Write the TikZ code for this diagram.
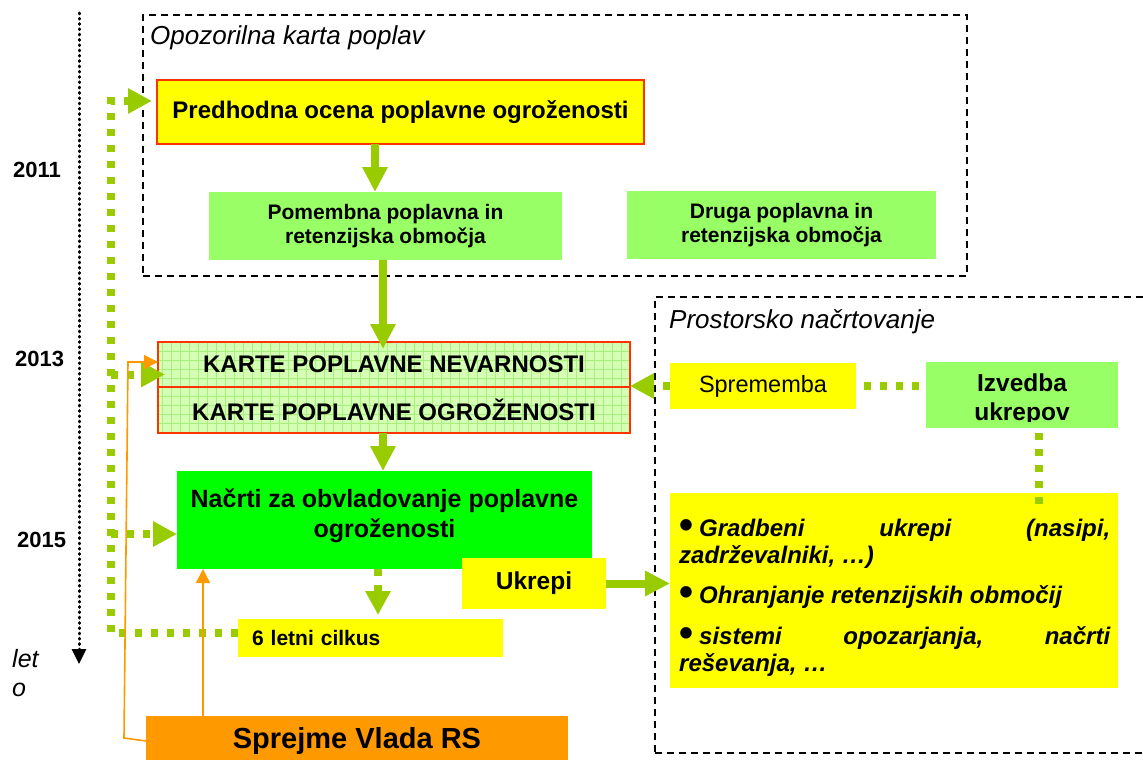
\documentclass[tikz,border=0pt]{standalone}
\usepackage{fontspec}
\setmainfont{Liberation Sans}
\usetikzlibrary{arrows.meta,backgrounds,calc}
\definecolor{agreen}{HTML}{99CC00}
\definecolor{lgreen}{HTML}{99FF66}
\definecolor{bgreen}{HTML}{00FF00}
\definecolor{ayellow}{HTML}{FFFF00}
\definecolor{ared}{HTML}{FF3300}
\definecolor{aorange}{HTML}{FF9900}
\definecolor{gridfill}{HTML}{D5FFB5}
\definecolor{gridline}{HTML}{A8F07C}
\newcommand{\myfs}[2]{\fontsize{#1}{#2}\selectfont}
\newcommand{\bigbul}{\raisebox{-2pt}{\upshape\myfs{40}{40}•}\hspace{6pt}}
\begin{document}
\begin{tikzpicture}[x=1pt,y=-1pt,
  box/.style={inner sep=0pt, outer sep=0pt, anchor=north west, align=center},
  zone/.style={draw=black, line width=1.3pt, dash pattern=on 7pt off 5pt, inner sep=0pt, outer sep=0pt, anchor=north west},
  year/.style={anchor=base west, inner sep=0pt, font=\bfseries\myfs{22}{26}},
  garrow/.style={draw=agreen, line width=8pt, -{Triangle[length=25pt,width=24pt]}},
  gdots/.style={draw=agreen, line width=8pt, dash pattern=on 7pt off 9pt},
  gdarrow/.style={gdots, -{Triangle[length=24pt,width=24pt]}},
  oarrow/.style={draw=aorange, line width=1.6pt, -{Triangle[length=14pt,width=14pt]}},
  timeline/.style={draw=black, line width=3pt, dash pattern=on 0.8pt off 4.5pt, line cap=round, -{Triangle[length=15pt,width=14pt]}}
]
\useasboundingbox (0,0) rectangle (1143,760);
\clip (0,0) rectangle (1143,760);

% time axis
\coordinate (tl1) at (79,13);
\coordinate (tl2) at (79,664);
\draw[timeline] (tl1) -- (tl2);
\node[year] (y2011) at (13,177) {2011};
\node[year] (y2013) at (15,366) {2013};
\node[year] (y2015) at (17,547) {2015};
\node[anchor=north west, inner sep=0pt, align=left, font=\itshape\myfs{25}{29}] (leto) at (12,649) {let\\o};

% dashed zones
\node[zone, minimum width=824pt, minimum height=261pt] (zone1) at (143,15) {};
\node[zone, minimum width=520pt, minimum height=456pt] (zone2) at (655,297) {};
\node[anchor=base west, inner sep=0pt, font=\itshape\myfs{26}{30}] (lab1) at (150,45) {Opozorilna karta poplav};
\node[anchor=base west, inner sep=0pt, font=\itshape\myfs{26}{30}] (lab2) at (669,328) {Prostorsko načrtovanje};

% boxes
\node[box, fill=ayellow, draw=ared, line width=2.5pt, minimum width=487pt, minimum height=64pt, font=\bfseries\myfs{24}{28}] (pred) at (157,80) {Predhodna ocena poplavne ogroženosti};
\node[box, fill=lgreen, minimum width=353pt, minimum height=68pt, font=\bfseries\myfs{21}{24}] (pom) at (209,192) {Pomembna poplavna in\\retenzijska območja};
\node[box, fill=lgreen, minimum width=309pt, minimum height=68pt, font=\bfseries\myfs{21}{24}] (druga) at (627,191) {Druga poplavna in\\retenzijska območja};

\node[box, draw=ared, line width=2.5pt, minimum width=472pt, minimum height=45pt, font=\bfseries\myfs{24}{28}] (karte1) at (158,342) {KARTE POPLAVNE NEVARNOSTI};
\node[box, draw=ared, line width=2.5pt, minimum width=472pt, minimum height=46pt, font=\bfseries\myfs{24}{28}] (karte2) at (158,387) {KARTE POPLAVNE OGROŽENOSTI};
\begin{scope}[on background layer]
  \fill[gridfill] (karte1.north west) rectangle (karte2.south east);
  \clip (karte1.north west) rectangle (karte2.south east);
  \draw[gridline, line width=0.6pt, step=9pt] (karte1.north west) grid (karte2.south east);
\end{scope}

\node[box, fill=bgreen, minimum width=415pt, minimum height=98pt] (nacrti) at (177,471) {};
\node[inner sep=0pt, align=center, font=\bfseries\myfs{25}{30}] (nacritT) at ([yshift=4pt]nacrti.center) {Načrti za obvladovanje poplavne\\ogroženosti};
\node[box, fill=ayellow, minimum width=144pt, minimum height=51pt, font=\bfseries\myfs{24.5}{28}] (ukrepi) at (462,558) {Ukrepi};
\node[box, fill=ayellow, inner xsep=14pt, text width=237pt, align=left, minimum height=38pt, font=\bfseries\myfs{21}{24}] (cikl) at (238,619) {6 letni cilkus};
\node[box, fill=aorange, minimum width=422pt, minimum height=50pt, font=\bfseries\myfs{29}{33}] (vlada) at (146,716) {Sprejme Vlada RS};

\node[box, fill=ayellow, minimum width=186pt, minimum height=46pt, font=\myfs{23.5}{28}] (spr) at (670,363) {Sprememba};
\node[box, fill=lgreen, minimum width=192pt, minimum height=66pt] (izv) at (926,362) {};
\begin{scope}
  \clip (926,362) rectangle (1118,421.5);
  \node[anchor=base, inner sep=0pt, font=\bfseries\myfs{24.5}{29}] (izvT1) at (1022,391) {Izvedba};
  \node[anchor=base, inner sep=0pt, font=\bfseries\myfs{24.5}{29}] (izvT2) at (1022,420.5) {ukrepov};
\end{scope}

\node[box, fill=ayellow, minimum width=448pt, minimum height=195pt] (bul) at (670,493) {};
\node[anchor=north west, inner sep=0pt, align=left, font=\bfseries\itshape\myfs{24}{27}] (bulT) at (679,518.5) {%
\hbox to 431pt{\bigbul Gradbeni\hfill ukrepi\hfill (nasipi,}\\
zadrževalniki, …)\\[13pt]
\bigbul Ohranjanje retenzijskih območij\\[14pt]
\hbox to 431pt{\bigbul sistemi\hfill opozarjanja,\hfill načrti}\\
reševanja, …};

% solid green arrows
\coordinate (ax1) at (375,0);
\coordinate (ax2) at (383,0);
\coordinate (ax3) at (378,0);
\draw[garrow] (pred.south -| ax1) -- (pom.north -| ax1);
\draw[garrow, shorten >=-7pt] (pom.south -| ax2) -- (karte1.north -| ax2);
\draw[garrow] (karte2.south -| ax2) -- (nacrti.north -| ax2);
\draw[gdarrow, shorten >=4pt] (nacrti.south -| ax3) -- (cikl.north -| ax3);
\draw[garrow] (ukrepi.east) -- (ukrepi.east -| bul.west);

% dotted green loop
\coordinate (lx) at (111,0);
\coordinate (cA) at ([yshift=5pt]cikl.west);
\coordinate (pB) at ([yshift=11pt]pred.west);
\coordinate (kB) at ([yshift=-10pt]karte1.west);
\coordinate (nB) at ([yshift=-14pt]nacrti.west);
\draw[gdarrow, shorten >=5pt] (cA) -- (cA -| lx) |- (pB);
\draw[gdarrow, shorten >=-7pt] (kB -| lx) -- (kB);
\draw[gdarrow] (nB -| lx) -- (nB);

% dotted green right side
\draw[gdarrow] (spr.west) -- (spr.west -| karte1.east);
\draw[gdots, shorten <=8pt, shorten >=6pt] (spr.east) -- (spr.east -| izv.west);
\coordinate (ix) at (1039,0);
\draw[gdots, shorten <=5pt, shorten >=-12pt] (izv.south -| ix) -- (bul.north -| ix);

% orange arrows
\coordinate (o1) at (124,738);
\coordinate (o2) at (128,362);
\coordinate (kO) at ([yshift=2.5pt]karte1.west);
\draw[oarrow] (vlada.west) -- (o1) -- (o2) -- (kO);
\coordinate (ox) at (203,0);
\draw[oarrow] (vlada.north -| ox) -- (nacrti.south -| ox);
\end{tikzpicture}
\end{document}
